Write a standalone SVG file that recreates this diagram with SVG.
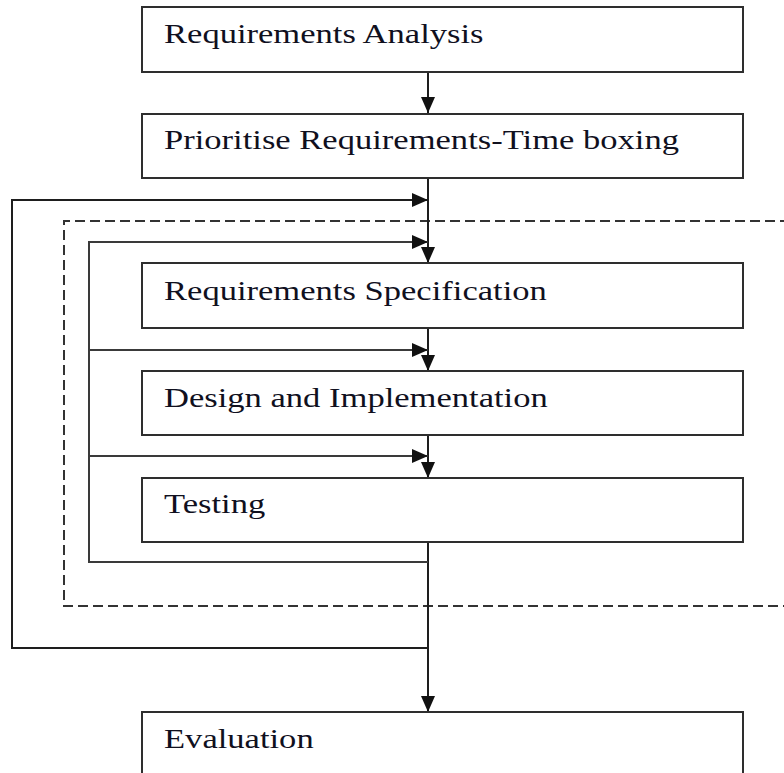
<svg xmlns="http://www.w3.org/2000/svg" width="784" height="773" viewBox="0 0 784 773">
  <style>
    .box { fill: #ffffff; stroke: #2e2e2e; stroke-width: 2; }
    .label { font-family: 'Liberation Serif', serif; font-size: 27px; fill: #10101e; }
    .flow { fill: none; stroke: #1e1e1e; stroke-width: 2; }
    .loop { fill: none; stroke: #3a3a3a; stroke-width: 2; }
    .frame { fill: none; stroke: #333333; stroke-width: 2; stroke-dasharray: 10 5; }
  </style>
  <defs>
    <marker id="arrow" markerUnits="userSpaceOnUse" viewBox="0 0 16 14" refX="16" refY="7" markerWidth="16" markerHeight="14" orient="auto">
      <path d="M0,0 L16,7 L0,14 z" fill="#111111"/>
    </marker>
  </defs>

  <rect width="784" height="773" fill="#ffffff"/>

  <!-- iteration frame -->
  <path class="frame" d="M790,221 H64 V606 H790"/>

  <g id="connectors">
    <!-- main downward flow -->
    <line class="flow" x1="428" y1="72" x2="428" y2="113" marker-end="url(#arrow)"/>
    <line class="flow" x1="428" y1="178" x2="428" y2="263" marker-end="url(#arrow)"/>
    <line class="flow" x1="428" y1="328" x2="428" y2="371" marker-end="url(#arrow)"/>
    <line class="flow" x1="428" y1="435" x2="428" y2="478" marker-end="url(#arrow)"/>
    <line class="flow" x1="428" y1="542" x2="428" y2="712" marker-end="url(#arrow)"/>
    <!-- outer feedback loop -->
    <path class="flow" d="M428,648 H12 V200 H428" marker-end="url(#arrow)"/>
    <!-- inner feedback loop with branches -->
    <path class="loop" d="M428,562 H89 V242 H428" marker-end="url(#arrow)"/>
    <line class="loop" x1="89" y1="350" x2="428" y2="350" marker-end="url(#arrow)"/>
    <line class="loop" x1="89" y1="456" x2="428" y2="456" marker-end="url(#arrow)"/>
  </g>

  <!-- labels are set in a horizontally widened serif face -->
  <g id="requirements-analysis">
    <rect class="box" x="142" y="7" width="601" height="65"/>
    <text class="label" transform="translate(164,43) scale(1.28,1)">Requirements Analysis</text>
  </g>
  <g id="prioritise-requirements">
    <rect class="box" x="142" y="114" width="601" height="64"/>
    <text class="label" transform="translate(164,149) scale(1.28,1)">Prioritise Requirements-Time boxing</text>
  </g>
  <g id="requirements-specification">
    <rect class="box" x="142" y="263" width="601" height="65"/>
    <text class="label" transform="translate(164,300) scale(1.28,1)">Requirements Specification</text>
  </g>
  <g id="design-implementation">
    <rect class="box" x="142" y="371" width="601" height="64"/>
    <text class="label" transform="translate(164,407) scale(1.28,1)">Design and Implementation</text>
  </g>
  <g id="testing">
    <rect class="box" x="142" y="478" width="601" height="64"/>
    <text class="label" transform="translate(164,513) scale(1.28,1)">Testing</text>
  </g>
  <g id="evaluation">
    <rect class="box" x="142" y="712" width="601" height="80"/>
    <text class="label" transform="translate(164,748) scale(1.28,1)">Evaluation</text>
  </g>
</svg>
